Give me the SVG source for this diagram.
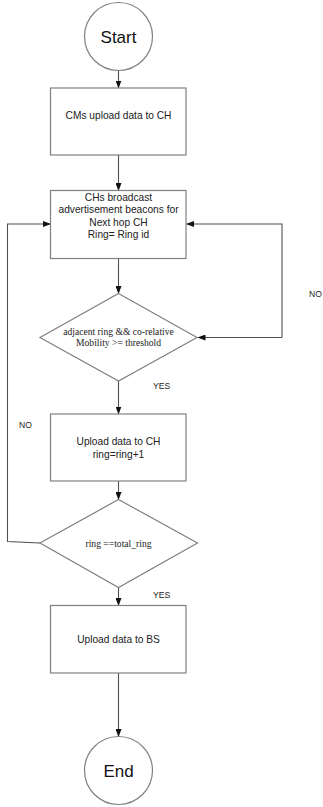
<svg xmlns="http://www.w3.org/2000/svg" width="323" height="807" viewBox="0 0 323 807">
<style>
.shape{fill:#fff;stroke:#808080;stroke-width:1.2}
.conn{fill:none;stroke:#505050;stroke-width:1.1}
.t{font-family:"Liberation Sans",Arial,sans-serif;font-size:10.2px;fill:#222;text-anchor:middle}
.big{font-family:"Liberation Sans",Arial,sans-serif;font-size:17px;fill:#111;text-anchor:middle}
.s{font-family:"Liberation Serif","Times New Roman",serif;font-size:9.6px;fill:#222;text-anchor:middle}
.lab{font-family:"Liberation Sans",Arial,sans-serif;font-size:8.6px;fill:#222}
</style>
<defs>
<marker id="ah" markerWidth="8" markerHeight="6" refX="7.5" refY="3" orient="auto" markerUnits="userSpaceOnUse">
<path d="M0,0 L8,3 L0,6 Z" fill="#111"/>
</marker>
</defs>
<rect width="323" height="807" fill="#fff"/>
<g id="connectors">
<line class="conn" x1="118.5" y1="70.5" x2="118.5" y2="88" marker-end="url(#ah)"/>
<line class="conn" x1="118.5" y1="155" x2="118.5" y2="190.5" marker-end="url(#ah)"/>
<line class="conn" x1="118.5" y1="258.5" x2="118.5" y2="293.5" marker-end="url(#ah)"/>
<path class="conn" d="M282,337.5 L198,337.5" marker-end="url(#ah)"/>
<path class="conn" d="M282,337.5 L282,224 L186.5,224" marker-end="url(#ah)"/>
<line class="conn" x1="118.5" y1="381" x2="118.5" y2="414" marker-end="url(#ah)"/>
<line class="conn" x1="118.5" y1="481" x2="118.5" y2="499.5" marker-end="url(#ah)"/>
<path class="conn" d="M40,543 L7.5,541.5 L7.5,224 L50.5,224" marker-end="url(#ah)"/>
<line class="conn" x1="118.5" y1="587.5" x2="118.5" y2="605.5" marker-end="url(#ah)"/>
<line class="conn" x1="118.5" y1="673" x2="118.5" y2="736.5" marker-end="url(#ah)"/>
<text class="lab" x="322" y="297" text-anchor="end">NO</text>
<text class="lab" x="153" y="389">YES</text>
<text class="lab" x="19" y="427.5">NO</text>
<text class="lab" x="153" y="598">YES</text>
</g>
<g id="start">
<circle class="shape" cx="118.5" cy="36.5" r="34"/>
<text class="big" x="118.5" y="42.5">Start</text>
</g>
<g id="cms-upload">
<rect class="shape" x="50.5" y="88" width="135.5" height="67"/>
<text class="t" x="118.5" y="118.5">CMs upload data to CH</text>
</g>
<g id="ch-broadcast">
<rect class="shape" x="50.5" y="190.5" width="135.5" height="68"/>
<text class="t" x="118.5" y="201">CHs broadcast</text>
<text class="t" x="118.5" y="213">advertisement beacons for</text>
<text class="t" x="118.5" y="225.5">Next hop CH</text>
<text class="t" x="118.5" y="237.5">Ring= Ring id</text>
</g>
<g id="decision-mobility">
<polygon class="shape" points="118.5,293.5 197,337.5 118.5,381 40,337.5"/>
<text class="s" x="118.5" y="334.5">adjacent ring &amp;&amp; co-relative</text>
<text class="s" x="118.5" y="345.5">Mobility &gt;= threshold</text>
</g>
<g id="upload-ch">
<rect class="shape" x="50.5" y="414" width="135.5" height="67"/>
<text class="t" x="118.5" y="444.5">Upload data to CH</text>
<text class="t" x="118.5" y="457.5">ring=ring+1</text>
</g>
<g id="decision-ring">
<polygon class="shape" points="118.5,499.5 197.5,543 118.5,587.5 40,543"/>
<text class="s" x="118.5" y="546.5">ring ==total_ring</text>
</g>
<g id="upload-bs">
<rect class="shape" x="50.5" y="605.5" width="135.5" height="67.5"/>
<text class="t" x="118.5" y="642.5">Upload data to BS</text>
</g>
<g id="end">
<circle class="shape" cx="118.5" cy="770.5" r="34"/>
<text class="big" x="118.5" y="776.5">End</text>
</g>
</svg>
